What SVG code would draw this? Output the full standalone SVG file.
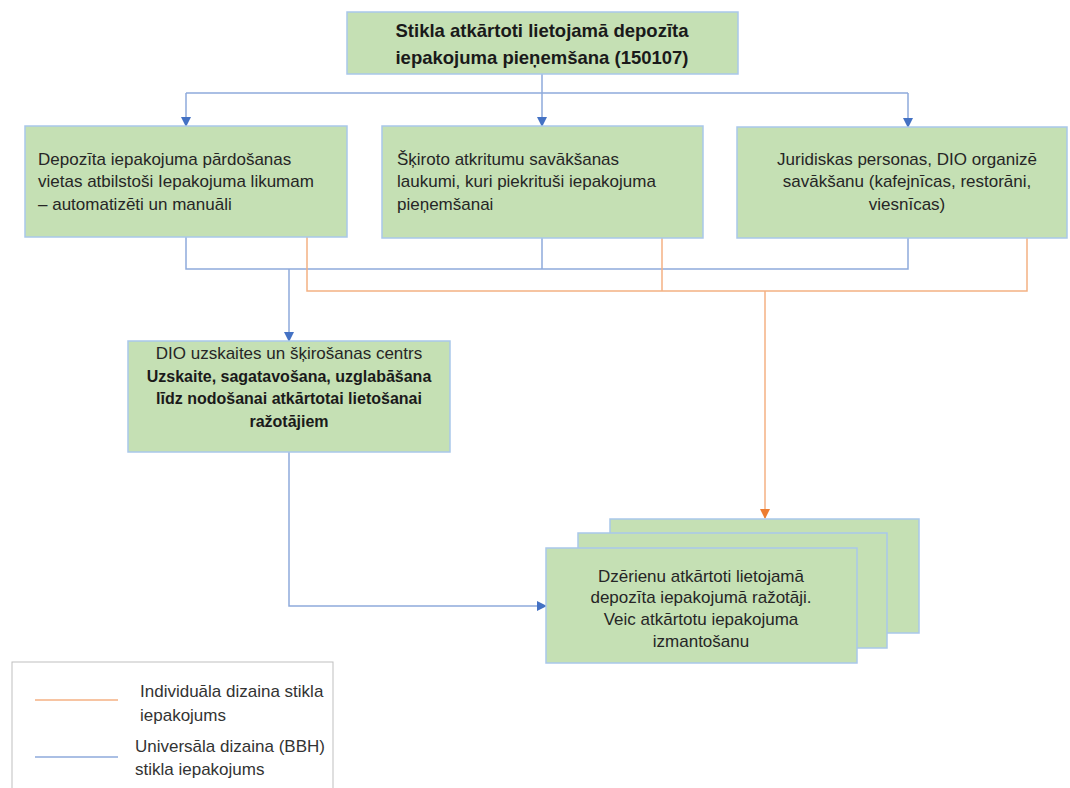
<svg xmlns="http://www.w3.org/2000/svg" width="1070" height="788" viewBox="0 0 1070 788">
<defs>
<style>
.box{fill:#c5e0b4;stroke:#a9c8ea;stroke-width:1.5}
.t{font-family:"Liberation Sans",Arial,sans-serif;font-size:17px;fill:#262626}
.tb{font-family:"Liberation Sans",Arial,sans-serif;font-size:16px;font-weight:bold;fill:#1a1a1a}
.c{text-anchor:middle}
.bl{fill:none;stroke:#8eaadb;stroke-width:1.5}
.or{fill:none;stroke:#f4b183;stroke-width:1.5}
.lt{font-family:"Liberation Sans",Arial,sans-serif;font-size:17px;fill:#333}
</style>
<marker id="ab" markerWidth="10" markerHeight="10" refX="9" refY="5" orient="auto" markerUnits="userSpaceOnUse">
<path d="M0,0 L10,5 L0,10 z" fill="#4472c4"/>
</marker>
<marker id="ao" markerWidth="10" markerHeight="10" refX="9" refY="5" orient="auto" markerUnits="userSpaceOnUse">
<path d="M0,0 L10,5 L0,10 z" fill="#ed7d31"/>
</marker>
</defs>
<rect width="1070" height="788" fill="#ffffff"/>
<g id="connectors">
<path class="bl" d="M542,74 V93"/>
<path class="bl" d="M186,93 H908"/>
<path class="bl" d="M186,93 V126" marker-end="url(#ab)"/>
<path class="bl" d="M542,93 V126" marker-end="url(#ab)"/>
<path class="bl" d="M908,93 V127" marker-end="url(#ab)"/>
<path class="bl" d="M186,237 V269 H908 V238"/>
<path class="bl" d="M542,238 V269"/>
<path class="bl" d="M289,269 V341" marker-end="url(#ab)"/>
<path class="or" d="M307,237 V291 H1027 V238"/>
<path class="or" d="M662,238 V291"/>
<path class="or" d="M765,291 V518" marker-end="url(#ao)"/>
<path class="bl" d="M289,452 V606 H546" marker-end="url(#ab)"/>
</g>
<g id="node-top">
<rect class="box" x="347" y="12" width="391" height="62"/>
<text class="tb c" x="542" y="37" style="font-size:18.5px">Stikla atkārtoti lietojamā depozīta</text>
<text class="tb c" x="542" y="64" style="font-size:18.5px">iepakojuma pieņemšana (150107)</text>
</g>
<g id="node-pardosana">
<rect class="box" x="25" y="126" width="322" height="111"/>
<text class="t" x="38" y="165">Depozīta iepakojuma pārdošanas</text>
<text class="t" x="38" y="187">vietas atbilstoši Iepakojuma likumam</text>
<text class="t" x="38" y="210">– automatizēti un manuāli</text>
</g>
<g id="node-laukumi">
<rect class="box" x="382" y="126" width="321" height="112"/>
<text class="t" x="397" y="165">Šķiroto atkritumu savākšanas</text>
<text class="t" x="397" y="187">laukumi, kuri piekrituši iepakojuma</text>
<text class="t" x="397" y="210">pieņemšanai</text>
</g>
<g id="node-juridiskas">
<rect class="box" x="737" y="127" width="330" height="111"/>
<text class="t c" x="907" y="165">Juridiskas personas, DIO organizē</text>
<text class="t c" x="907" y="187">savākšanu (kafejnīcas, restorāni,</text>
<text class="t c" x="907" y="210">viesnīcas)</text>
</g>
<g id="node-dio">
<rect class="box" x="128" y="341" width="322" height="111"/>
<text class="t c" x="289" y="359">DIO uzskaites un šķirošanas centrs</text>
<text class="tb c" x="289" y="382">Uzskaite, sagatavošana, uzglabāšana</text>
<text class="tb c" x="289" y="404">līdz nodošanai atkārtotai lietošanai</text>
<text class="tb c" x="289" y="427">ražotājiem</text>
</g>
<g id="node-razotaji">
<rect class="box" x="610" y="519" width="309" height="114"/>
<rect class="box" x="578" y="533" width="309" height="115"/>
<rect class="box" x="546" y="548" width="311" height="115"/>
<text class="t c" x="701" y="582">Dzērienu atkārtoti lietojamā</text>
<text class="t c" x="701" y="603">depozīta iepakojumā ražotāji.</text>
<text class="t c" x="701" y="625">Veic atkārtotu iepakojuma</text>
<text class="t c" x="701" y="647">izmantošanu</text>
</g>
<g id="legend">
<rect x="12" y="662" width="321" height="140" fill="#ffffff" stroke="#bfbfbf" stroke-width="1"/>
<path class="or" d="M35,700 H118"/>
<path class="bl" d="M35,757 H118"/>
<text class="lt" x="140" y="697">Individuāla dizaina stikla</text>
<text class="lt" x="140" y="721">iepakojums</text>
<text class="lt" x="135" y="752">Universāla dizaina (BBH)</text>
<text class="lt" x="135" y="775">stikla iepakojums</text>
</g>
</svg>
